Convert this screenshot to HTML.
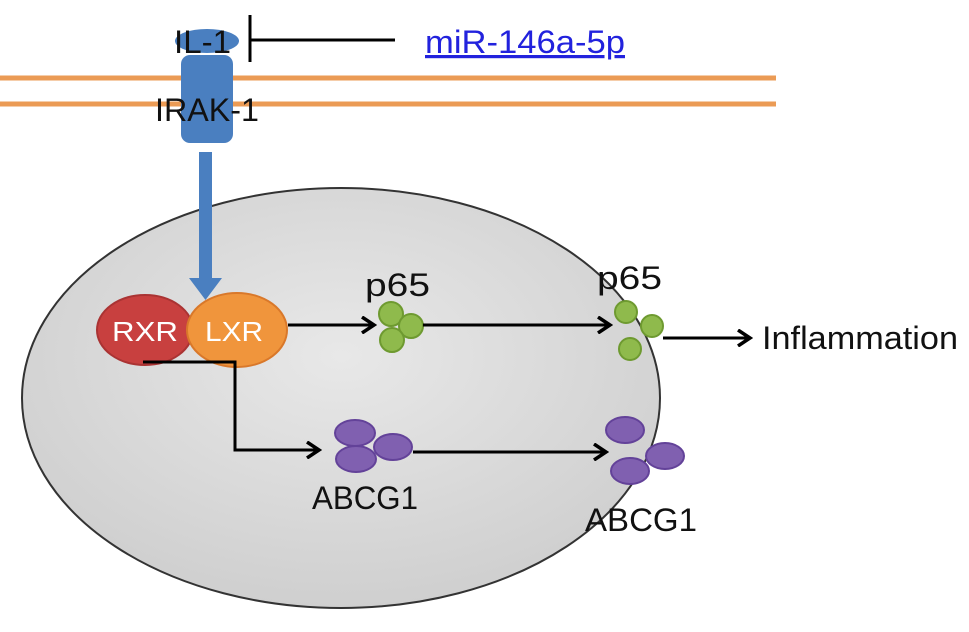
<!DOCTYPE html>
<html><head><meta charset="utf-8"><style>body{margin:0;background:#fff}svg{display:block}</style></head><body>
<svg width="969" height="632" viewBox="0 0 969 632" xmlns="http://www.w3.org/2000/svg" font-family="Liberation Sans, sans-serif">
<defs>
<radialGradient id="g" cx="0.5" cy="0.4" r="0.6"><stop offset="0" stop-color="#e8e8e8"/><stop offset="1" stop-color="#cfcfcf"/></radialGradient>
<marker id="a" markerWidth="16" markerHeight="18" refX="13" refY="9" orient="auto" markerUnits="userSpaceOnUse"><path d="M1,1 L13,9 L1,17" fill="none" stroke="#000" stroke-width="3.5"/></marker>
</defs>
<ellipse cx="341" cy="398" rx="319" ry="210" fill="url(#g)" stroke="#333" stroke-width="2"/>
<line x1="0" y1="78" x2="776" y2="78" stroke="#eb9b55" stroke-width="5"/>
<line x1="0" y1="104" x2="776" y2="104" stroke="#eb9b55" stroke-width="5"/>
<ellipse cx="207" cy="41" rx="32" ry="12" fill="#4a7fc0"/>
<rect x="181" y="55" width="52" height="88" rx="9" fill="#4a7fc0"/>
<text x="174" y="53" font-size="32" fill="#111" textLength="57" lengthAdjust="spacingAndGlyphs">IL-1</text>
<text x="155" y="121" font-size="32" fill="#111" textLength="104" lengthAdjust="spacingAndGlyphs">IRAK-1</text>
<line x1="250" y1="15" x2="250" y2="62" stroke="#000" stroke-width="3"/>
<line x1="250" y1="40" x2="395" y2="40" stroke="#000" stroke-width="3"/>
<text x="425" y="53" font-size="32" fill="#2222dd" text-decoration="underline" textLength="200" lengthAdjust="spacingAndGlyphs">miR-146a-5p</text>
<rect x="199" y="152" width="13" height="128" fill="#4a7fc0"/>
<path d="M189,278 L222,278 L205.5,300 Z" fill="#4a7fc0"/>
<ellipse cx="145" cy="330" rx="48" ry="35" fill="#c8403f" stroke="#a33" stroke-width="2"/>
<ellipse cx="237" cy="330" rx="50" ry="37" fill="#f0953c" stroke="#d9782a" stroke-width="2"/>
<text x="112" y="341" font-size="28" fill="#fff" textLength="66" lengthAdjust="spacingAndGlyphs">RXR</text>
<text x="205" y="341" font-size="28" fill="#fff" textLength="58" lengthAdjust="spacingAndGlyphs">LXR</text>
<line x1="288" y1="325" x2="374" y2="325" stroke="#000" stroke-width="3" marker-end="url(#a)"/>
<polyline points="143,362 235,362 235,450 319,450" fill="none" stroke="#000" stroke-width="3" marker-end="url(#a)"/>
<g fill="#8fba4c" stroke="#6e9a30" stroke-width="2">
<circle cx="391" cy="314" r="12"/><circle cx="411" cy="326" r="12"/><circle cx="392" cy="340" r="12"/>
<circle cx="626" cy="312" r="11"/><circle cx="652" cy="326" r="11"/><circle cx="630" cy="349" r="11"/>
</g>
<text x="365" y="296" font-size="32" fill="#111" textLength="65" lengthAdjust="spacingAndGlyphs">p65</text>
<text x="597" y="289" font-size="32" fill="#111" textLength="65" lengthAdjust="spacingAndGlyphs">p65</text>
<line x1="423" y1="325" x2="610" y2="325" stroke="#000" stroke-width="3" marker-end="url(#a)"/>
<line x1="663" y1="338" x2="750" y2="338" stroke="#000" stroke-width="3" marker-end="url(#a)"/>
<text x="762" y="349" font-size="32" fill="#111" textLength="196" lengthAdjust="spacingAndGlyphs">Inflammation</text>
<g fill="#8060b0" stroke="#634299" stroke-width="2">
<ellipse cx="355" cy="433" rx="20" ry="13"/><ellipse cx="356" cy="459" rx="20" ry="13"/><ellipse cx="393" cy="447" rx="19" ry="13"/>
<ellipse cx="625" cy="430" rx="19" ry="13"/><ellipse cx="665" cy="456" rx="19" ry="13"/><ellipse cx="630" cy="471" rx="19" ry="13"/>
</g>
<line x1="413" y1="452" x2="606" y2="452" stroke="#000" stroke-width="3" marker-end="url(#a)"/>
<text x="312" y="509" font-size="32" fill="#111" textLength="106" lengthAdjust="spacingAndGlyphs">ABCG1</text>
<text x="585" y="531" font-size="32" fill="#111" textLength="112" lengthAdjust="spacingAndGlyphs">ABCG1</text>
</svg>
</body></html>
